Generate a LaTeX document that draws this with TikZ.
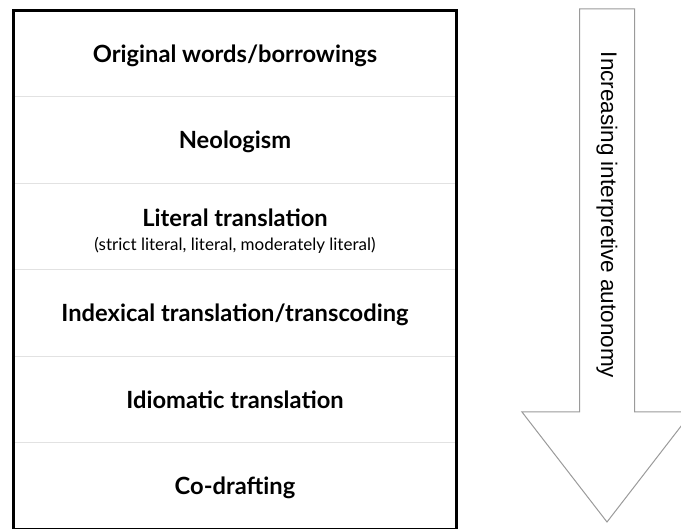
\documentclass[tikz,border=0pt]{standalone}
\usepackage{fontspec}
\setmainfont{Lato}
\newfontfamily\arrowfont{Liberation Sans}
\usepackage{xcolor}
\usetikzlibrary{positioning}
\definecolor{sepgray}{HTML}{E2E2E2}
\definecolor{arrgray}{HTML}{9A9A9A}

\begin{document}
\begin{tikzpicture}[x=1pt, y=-1pt]
  \useasboundingbox (0,0) rectangle (681,529);
  \tikzset{row/.style={minimum width=442pt, minimum height=86.1pt,
                       inner sep=0pt, align=center, text depth=0pt,
                       font=\fontsize{23.7}{28}\selectfont\bfseries},
           sep/.style={draw=sepgray, line width=1pt}}
  \node[row]                    (r1) at (235,53.5) {Original words/borrowings};
  \node[row, below=0pt of r1]   (r2) {Neologism};
  \node[row, below=0pt of r2]   (r3) {\rule{0pt}{24pt}Literal translation\\[-4pt]
       {\fontsize{17}{20}\selectfont\mdseries (strict literal, literal, moderately literal)}};
  \node[row, below=0pt of r3]   (r4) {Indexical translation/transcoding};
  \node[row, below=0pt of r4]   (r5) {Idiomatic translation};
  \node[row, below=0pt of r5]   (r6) {Co-drafting};

  \foreach \r in {r1,r2,r3,r4,r5}
    \draw[sep] (\r.south west) -- (\r.south east);
  \draw[line width=3pt] (r1.north west) rectangle (r6.south east);

  % the big hollow arrow on the right
  \coordinate (tl) at (579.5,9);   \coordinate (tr) at (634.5,9);
  \coordinate (sr) at (634.5,412); \coordinate (hr) at (692,412);
  \coordinate (tip) at (607,522);
  \coordinate (hl) at (522,412);   \coordinate (sl) at (579.5,412);
  \draw[arrgray, line width=1pt, line join=miter]
    (tl) -- (tr) -- (sr) -- (hr) -- (tip) -- (hl) -- (sl) -- cycle;
  \node[rotate=-90, font=\arrowfont\fontsize{22.5}{26}\selectfont] (lbl)
       at (607,215) {Increasing interpretive autonomy};
\end{tikzpicture}
\end{document}
